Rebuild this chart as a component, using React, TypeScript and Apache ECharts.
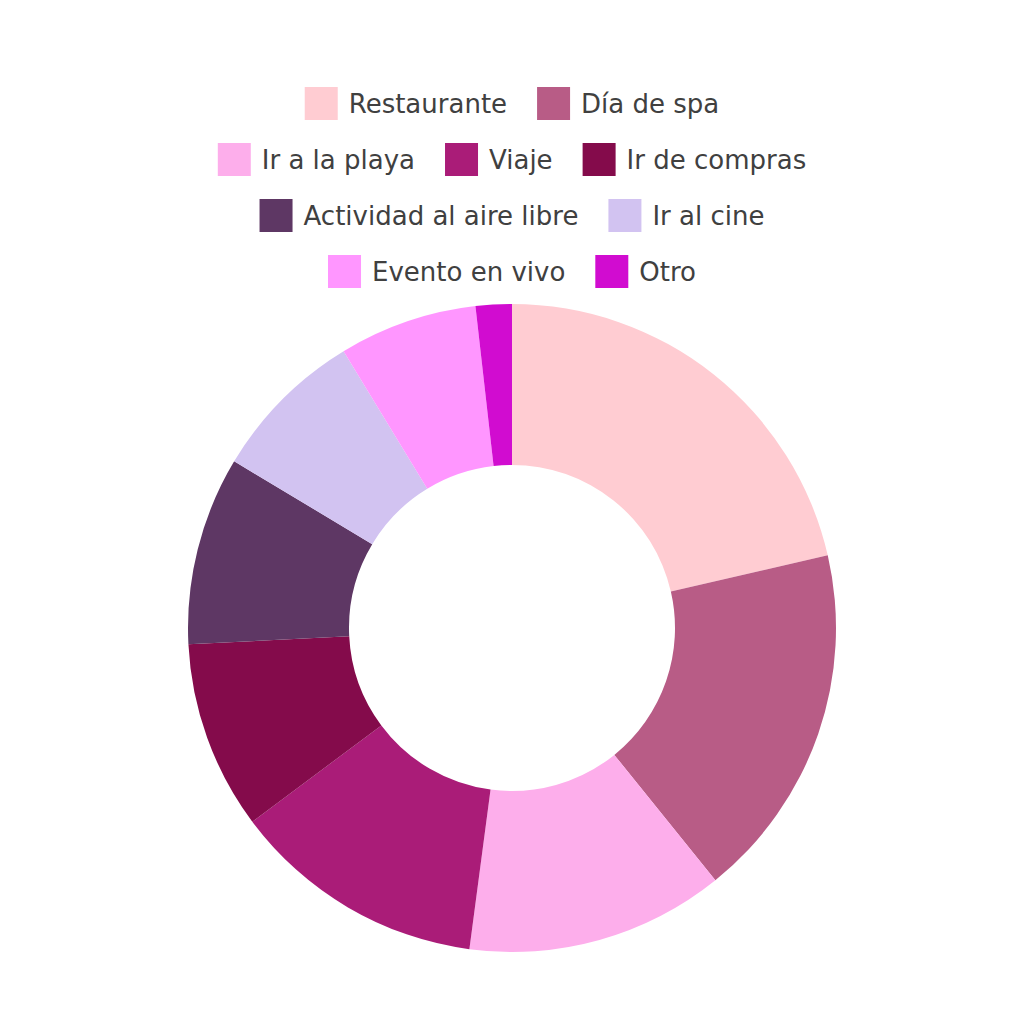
import React, { useEffect, useRef } from "react";
import * as echarts from "echarts";

const categories = [
  "Restaurante",
  "Día de spa",
  "Ir a la playa",
  "Viaje",
  "Ir de compras",
  "Actividad al aire libre",
  "Ir al cine",
  "Evento en vivo",
  "Otro",
];
const values = [21.4, 17.8, 12.9, 12.7, 9.4, 9.4, 7.7, 6.9, 1.8];
const colors = [
  "#FFCCD2",
  "#B85C86",
  "#FDAEEB",
  "#AA1C78",
  "#840B4B",
  "#5E3764",
  "#D2C3F1",
  "#FF96FF",
  "#D10CD0",
];
const legendRows = [
  ["Restaurante", "Día de spa"],
  ["Ir a la playa", "Viaje", "Ir de compras"],
  ["Actividad al aire libre", "Ir al cine"],
  ["Evento en vivo", "Otro"],
];

export default function App() {
  const ref = useRef<HTMLDivElement>(null);
  useEffect(() => {
    if (!ref.current) return;
    const chart = echarts.init(ref.current, null, { renderer: "svg" });
    chart.setOption({
      animation: false,
      color: colors,
      legend: legendRows.map((row, i) => ({
        data: row,
        left: "center",
        top: 87 + i * 56,
        orient: "horizontal",
        icon: "rect",
        itemWidth: 33,
        itemHeight: 33,
        itemGap: 30,
        padding: 0,
        selectedMode: false,
        textStyle: {
          fontFamily: "'DejaVu Sans', sans-serif",
          fontSize: 26,
          color: "#404040",
          padding: [0, 0, 5, 6],
        },
      })),
      series: [
        {
          type: "pie",
          center: [512, 628],
          radius: [163, 324],
          startAngle: 90,
          clockwise: true,
          label: { show: false },
          labelLine: { show: false },
          itemStyle: { borderWidth: 0 },
          emphasis: { disabled: true },
          data: categories.map((name, i) => ({ name, value: values[i] })),
        },
      ],
    });
    return () => chart.dispose();
  }, []);
  return (
    <div
      ref={ref}
      style={{ position: "fixed", left: 0, top: 0, width: 1024, height: 1024, background: "#fff" }}
    />
  );
}
